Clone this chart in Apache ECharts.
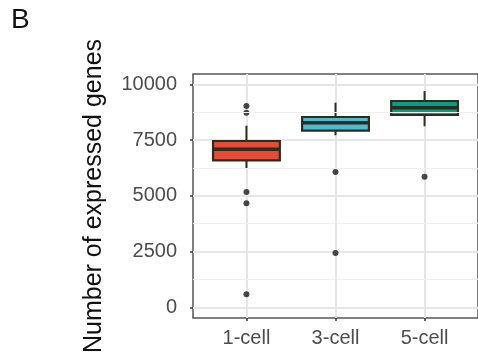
<!DOCTYPE html>
<html lang="en">
<head>
  <meta charset="UTF-8">
  <title>Expressed genes boxplot</title>
  <script src="https://cdn.jsdelivr.net/npm/echarts@6/dist/echarts.min.js"></script>
  <style>
    html, body { margin: 0; padding: 0; background: #fff; }
    #chart { width: 478px; height: 359px; }
  </style>
</head>
<body>
  <div id="chart"></div>
  <script>
    // stages on x
    const categories = ['1-cell', '3-cell', '5-cell']
    // [lower whisker, Q1, median, Q3, upper whisker]
    const boxStats = [
      [6202, 6592, 7085, 7457, 8143],
      [7713, 7919, 8278, 8534, 9175],
      [8117, 8623, 8951, 9251, 9700]
    ]
    // [category index, value]
    const outliers = [
      [0, 9027], [0, 8727], [0, 5170], [0, 4664], [0, 583],
      [1, 6067], [1, 2435],
      [2, 5857]
    ]
    const yTicks = [0, 2500, 5000, 7500, 10000]
    const yMinor = [1250, 3750, 6250, 8750]
    const boxColors = ['#E64B35', '#4DBBD5', '#00A087']

    const edge = '#2e2b1f'
    const font = 'Liberation Sans, Arial, sans-serif'

    const chart = echarts.init(document.getElementById('chart'))

    function renderBox (params, api) {
      const x = api.value(0)
      const half = api.size([0.75, 0])[0] / 2
      const lo = api.coord([x, api.value(1)])
      const q1 = api.coord([x, api.value(2)])
      const med = api.coord([x, api.value(3)])
      const q3 = api.coord([x, api.value(4)])
      const hi = api.coord([x, api.value(5)])
      const lineStyle = { stroke: edge, lineWidth: 2 }
      return {
        type: 'group',
        children: [
          { type: 'line', shape: { x1: hi[0], y1: hi[1], x2: q3[0], y2: q3[1] }, style: lineStyle },
          { type: 'line', shape: { x1: q1[0], y1: q1[1], x2: lo[0], y2: lo[1] }, style: lineStyle },
          {
            type: 'rect',
            shape: { x: q3[0] - half, y: q3[1], width: half * 2, height: q1[1] - q3[1] },
            style: { fill: boxColors[params.dataIndex], stroke: edge, lineWidth: 2.2 }
          },
          {
            type: 'line',
            shape: { x1: med[0] - half, y1: med[1], x2: med[0] + half, y2: med[1] },
            style: { stroke: edge, lineWidth: 3.5 }
          }
        ]
      }
    }

    chart.setOption({
      animation: false,
      backgroundColor: '#fff',
      title: {
        text: 'B',
        left: 6,
        top: 1,
        textStyle: { fontFamily: font, fontSize: 28, fontWeight: 'normal', color: '#111' }
      },
      grid: {
        left: 193,
        top: 74,
        right: -2,
        bottom: 41,
        show: true,
        borderColor: '#555',
        borderWidth: 1.5
      },
      xAxis: {
        type: 'value',
        min: 0.4,
        max: 3.6,
        axisLine: { show: false, onZero: false },
        axisTick: { show: true, length: 3, customValues: [1, 2, 3], lineStyle: { color: '#333', width: 1.5 } },
        axisLabel: {
          customValues: [1, 2, 3],
          formatter: v => categories[Math.round(v) - 1] || '',
          fontFamily: font,
          fontSize: 20,
          color: '#4d4d4d',
          margin: 10
        },
        splitLine: { show: true, lineStyle: { color: '#e6e6e6', width: 2 } }
      },
      yAxis: {
        type: 'value',
        min: -480,
        max: 10462,
        name: 'Number of expressed genes',
        nameLocation: 'middle',
        nameGap: 86,
        nameTextStyle: { fontFamily: font, fontSize: 25, color: '#111' },
        axisLine: { show: false, onZero: false },
        axisTick: { show: true, length: 3, customValues: yTicks, lineStyle: { color: '#333', width: 1.5 } },
        axisLabel: {
          customValues: yTicks,
          formatter: v => String(v),
          fontFamily: font,
          fontSize: 20,
          color: '#4d4d4d',
          margin: 16
        },
        splitLine: { show: true, lineStyle: { color: '#e6e6e6', width: 2 } }
      },
      series: [
        {
          type: 'line',
          data: [],
          z: 1,
          silent: true,
          markLine: {
            silent: true,
            symbol: 'none',
            label: { show: false },
            lineStyle: { color: '#efefef', width: 1, type: 'solid' },
            data: yMinor.map(v => ({ yAxis: v }))
          }
        },
        {
          type: 'custom',
          z: 3,
          renderItem: renderBox,
          data: boxStats.map((s, i) => [i + 1, ...s])
        },
        {
          type: 'scatter',
          z: 4,
          symbolSize: 6,
          itemStyle: { color: '#1a1a1a' },
          data: outliers.map(o => [o[0] + 1, o[1]])
        }
      ]
    })
  </script>
</body>
</html>
